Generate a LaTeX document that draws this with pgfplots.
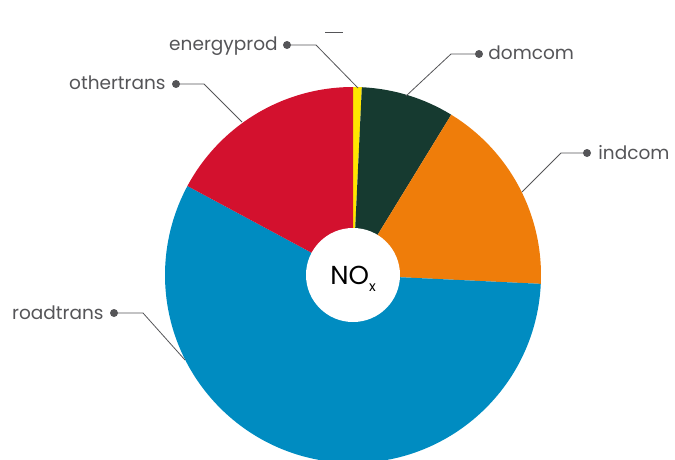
\documentclass[border=0pt]{standalone}
\usepackage{pgfplots}
\pgfplotsset{compat=1.18}
\usepackage{pgfplotstable}
\usepackage{fontspec}
\setmainfont{Poppins}
\definecolor{cEnergy}{RGB}{255,230,0}
\definecolor{cDom}{RGB}{22,58,48}
\definecolor{cInd}{RGB}{239,125,10}
\definecolor{cRoad}{RGB}{0,140,193}
\definecolor{cOther}{RGB}{211,17,46}
\definecolor{cLab}{RGB}{85,85,88}

\pgfplotstableread{
name value col
energyprod 0.75 cEnergy
domcom 8.0 cDom
indcom 17.0 cInd
roadtrans 57.1 cRoad
othertrans 17.15 cOther
}\pietable

\begin{document}
\begin{tikzpicture}
\begin{axis}[x=1pt,y=1pt,xmin=0,xmax=675,ymin=0,ymax=459,
  scale only axis,hide axis,clip=true]
\pgfmathsetmacro{\cum}{0}
\pgfplotsforeachungrouped \i in {0,...,4}{%
  \pgfplotstablegetelem{\i}{value}\of\pietable \let\val\pgfplotsretval
  \pgfplotstablegetelem{\i}{col}\of\pietable \let\col\pgfplotsretval
  \pgfmathsetmacro{\sa}{90-3.6*\cum}%
  \pgfmathsetmacro{\ea}{90-3.6*(\cum+\val)}%
  \pgfmathsetmacro{\sx}{353+188*cos(\sa)}%
  \pgfmathsetmacro{\sy}{184+188*sin(\sa)}%
  \edef\temp{\noexpand\fill[\col] (axis cs:353,184) -- (axis cs:\sx,\sy) arc[start angle=\sa, end angle=\ea, radius=188pt] -- cycle;}%
  \temp
  \pgfmathsetmacro{\cum}{\cum+\val}%
}
\fill[white] (axis cs:353,184) circle[radius=47pt];
\node[inner sep=0pt,anchor=base] at (axis cs:353,175) {\fontsize{26}{26}\selectfont NO\raisebox{-7pt}{\fontsize{14}{14}\selectfont x}};
% leader lines
\begin{scope}[cLab,line width=0.8pt]
\draw (axis cs:358,371) -- (axis cs:316,414) -- (axis cs:287,414);
\fill (axis cs:287,414) circle[radius=4pt];
\node[anchor=base east,inner sep=0pt,font=\fontsize{18.5}{18.5}\selectfont] at (axis cs:278,408) {energyprod};
\draw (axis cs:242,337) -- (axis cs:204,375) -- (axis cs:176,375);
\fill (axis cs:176,375) circle[radius=4pt];
\node[anchor=base east,inner sep=0pt,font=\fontsize{18.5}{18.5}\selectfont] at (axis cs:166,370) {othertrans};
\draw (axis cs:406,363) -- (axis cs:451,405) -- (axis cs:479,405);
\fill (axis cs:479,405) circle[radius=4pt];
\node[anchor=base west,inner sep=0pt,font=\fontsize{18.5}{18.5}\selectfont] at (axis cs:488,399) {domcom};
\draw (axis cs:522,267) -- (axis cs:561,306) -- (axis cs:587,306);
\fill (axis cs:587,306) circle[radius=4pt];
\node[anchor=base west,inner sep=0pt,font=\fontsize{18.5}{18.5}\selectfont] at (axis cs:598,300) {indcom};
\draw (axis cs:185,99) -- (axis cs:143,146) -- (axis cs:114,146);
\fill (axis cs:114,146) circle[radius=4pt];
\node[anchor=base east,inner sep=0pt,font=\fontsize{18.5}{18.5}\selectfont] at (axis cs:104,140) {roadtrans};
\draw[line width=0.7pt] (axis cs:325,427) -- (axis cs:343,427);
\end{scope}
\end{axis}
\pgfresetboundingbox
\useasboundingbox (current axis.south west) rectangle (current axis.north east);
\end{tikzpicture}
\end{document}
